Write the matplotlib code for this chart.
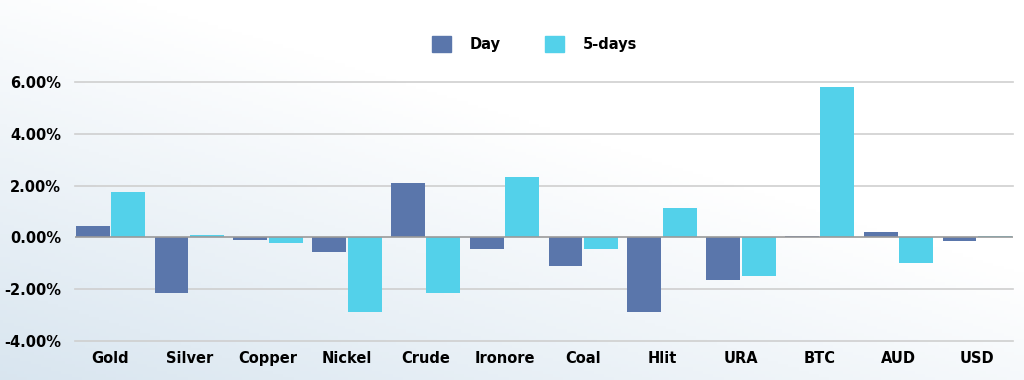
import numpy as np
import matplotlib.pyplot as plt
from matplotlib.patches import Patch

# Данные
categories = ['Gold', 'Silver', 'Copper', 'Nickel', 'Crude', 'Ironore', 'Coal',
              'Hlit', 'URA', 'BTC', 'AUD', 'USD']
day = [0.45, -2.15, -0.10, -0.55, 2.10, -0.45, -1.10, -2.87, -1.63, 0.05, 0.22, -0.15]
five_days = [1.75, 0.08, -0.22, -2.88, -2.13, 2.33, -0.44, 1.13, -1.48, 5.80, -0.98, 0.05]
yticks = [-4, -2, 0, 2, 4, 6]

col_day = '#5a76ab'
col_5d = '#53d1ea'

plt.rcParams['font.family'] = ['DejaVu Sans']
plt.rcParams['font.weight'] = 'bold'
fs = 10.5

fig = plt.figure(figsize=(10.24, 3.8), dpi=100)

# Фон с градиентом
bg = fig.add_axes([0, 0, 1, 1], zorder=-10)
xx, yy = np.meshgrid(np.linspace(0, 1, 300), np.linspace(0, 1, 120))
t = np.clip(0.75 * xx + 0.9 * yy, 0, 1)
c0 = np.array([0.85, 0.90, 0.94])
c1 = np.array([1.0, 1.0, 1.0])
img = c0[None, None, :] * (1 - t[..., None]) + c1[None, None, :] * t[..., None]
bg.imshow(img, origin='lower', aspect='auto', extent=[0, 1, 0, 1])
bg.axis('off')

ax = fig.add_axes([0.0732, 0.1026, 0.9158, 0.6816])
ax.patch.set_alpha(0)

x = np.arange(len(categories))
w = 0.43
ax.bar(x - 0.225, day, width=w, color=col_day, zorder=3)
ax.bar(x + 0.225, five_days, width=w, color=col_5d, zorder=3)

ax.set_xlim(-0.45, len(categories) - 1 + 0.45)
ax.set_ylim(-4, 6)
ax.set_yticks(yticks)
ax.set_yticklabels([f'{v:.2f}%' for v in yticks], fontsize=fs, fontweight='bold')
ax.set_xticks(x)
ax.set_xticklabels(categories, fontsize=fs, fontweight='bold')
ax.tick_params(length=0, pad=10)
ax.tick_params(axis='x', pad=7)

for v in yticks:
    if v != 0:
        ax.axhline(v, color='#cfcfcf', lw=1.2, zorder=1, clip_on=False)
ax.axhline(0, color='#9a9a9a', lw=1.2, zorder=4)

for s in ax.spines.values():
    s.set_visible(False)

handles = [Patch(color=col_day, label='Day'), Patch(color=col_5d, label='5-days')]
fig.legend(handles=handles, loc='center', bbox_to_anchor=(0.522, 0.884), ncol=2,
           frameon=False, handlelength=1.3, handleheight=1.3,
           handletextpad=1.3, columnspacing=3.0, prop={'weight': 'bold', 'size': fs})

fig.savefig('out.png', dpi=100)
